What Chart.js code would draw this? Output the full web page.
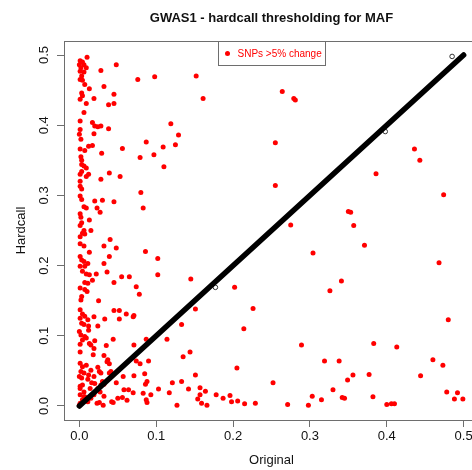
<!DOCTYPE html>
<html>
<head>
<meta charset="utf-8">
<script src="https://cdn.jsdelivr.net/npm/chart.js@4.4.1/dist/chart.umd.min.js"></script>
<style>
  html, body { margin: 0; padding: 0; overflow: hidden; background: #fff; }
  #wrap { position: relative; width: 500px; height: 470px; }
</style>
</head>
<body>
<div id="wrap"><canvas id="maf"></canvas></div>
<script>
// SNPs whose MAF moved by more than 5% after hardcall thresholding: [original, hardcall]
const changedSnps = [
  [0.010,0.497],[0.001,0.492],[0.004,0.490],[0.000,0.486],[0.006,0.486],[0.002,0.482],[0.009,0.482],
  [0.001,0.477],[0.006,0.476],[0.003,0.470],[0.001,0.465],[0.004,0.464],[0.028,0.478],[0.048,0.486],
  [0.007,0.458],[0.013,0.452],[0.003,0.446],[0.004,0.442],[0.001,0.437],[0.009,0.431],[0.032,0.455],
  [0.045,0.444],[0.019,0.438],[0.038,0.429],[0.045,0.431],[0.006,0.418],[0.017,0.404],[0.020,0.399],
  [0.024,0.398],[0.028,0.399],[0.038,0.395],[0.001,0.406],[0.001,0.394],[0.000,0.387],[0.002,0.380],
  [0.019,0.388],[0.001,0.366],[0.007,0.364],[0.012,0.370],[0.017,0.371],[0.056,0.367],[0.029,0.360],
  [0.002,0.355],[0.003,0.350],[0.003,0.344],[0.006,0.342],[0.009,0.339],[0.003,0.334],[0.001,0.330],
  [0.009,0.327],[0.012,0.330],[0.039,0.332],[0.053,0.327],[0.028,0.323],[0.001,0.320],[0.001,0.313],
  [0.003,0.309],[0.001,0.299],[0.003,0.294],[0.006,0.284],[0.009,0.282],[0.020,0.292],[0.030,0.293],
  [0.045,0.291],[0.023,0.282],[0.027,0.276],[0.001,0.274],[0.002,0.269],[0.013,0.265],[0.003,0.261],
  [0.001,0.257],[0.006,0.250],[0.004,0.246],[0.007,0.245],[0.015,0.250],[0.001,0.241],[0.001,0.231],
  [0.006,0.228],[0.013,0.219],[0.032,0.228],[0.040,0.237],[0.048,0.225],[0.001,0.213],[0.003,0.208],
  [0.006,0.206],[0.011,0.203],[0.001,0.199],[0.007,0.199],[0.004,0.192],[0.009,0.188],[0.013,0.187],
  [0.039,0.213],[0.032,0.203],[0.022,0.188],[0.036,0.191],[0.055,0.184],[0.017,0.179],[0.007,0.176],
  [0.011,0.175],[0.045,0.176],[0.001,0.168],[0.007,0.166],[0.010,0.163],[0.003,0.156],[0.002,0.151],
  [0.025,0.150],[0.001,0.137],[0.004,0.131],[0.007,0.128],[0.001,0.125],[0.011,0.123],[0.003,0.118],
  [0.006,0.116],[0.012,0.114],[0.019,0.127],[0.033,0.124],[0.045,0.136],[0.052,0.136],[0.052,0.124],
  [0.024,0.114],
  [0.076,0.465],[0.098,0.469],[0.152,0.470],[0.119,0.402],[0.129,0.386],[0.087,0.376],[0.109,0.369],
  [0.125,0.372],[0.079,0.354],[0.097,0.358],[0.110,0.341],[0.080,0.304],[0.083,0.282],[0.161,0.438],
  [0.264,0.448],[0.279,0.438],[0.281,0.436],[0.255,0.375],[0.255,0.314],[0.436,0.366],[0.443,0.350],
  [0.386,0.331],[0.474,0.301],[0.350,0.277],[0.353,0.276],[0.357,0.257],[0.371,0.229],[0.468,0.204],
  [0.341,0.178],[0.326,0.164],[0.480,0.123],[0.383,0.089],[0.413,0.084],[0.319,0.064],[0.338,0.064],
  [0.460,0.066],[0.473,0.058],[0.356,0.044],[0.349,0.037],[0.377,0.045],[0.444,0.043],[0.330,0.023],
  [0.315,0.009],[0.342,0.012],[0.345,0.011],[0.382,0.013],[0.400,0.002],[0.406,0.003],[0.410,0.003],
  [0.478,0.020],[0.492,0.019],[0.488,0.010],[0.499,0.010],[0.275,0.258],[0.304,0.218],[0.145,0.181],
  [0.202,0.169],[0.151,0.138],[0.226,0.139],[0.214,0.110],[0.144,0.077],[0.289,0.087],[0.205,0.054],
  [0.151,0.044],[0.252,0.033],[0.157,0.026],[0.164,0.021],[0.157,0.016],[0.154,0.010],[0.159,0.004],
  [0.166,0.001],[0.178,0.016],[0.187,0.011],[0.196,0.015],[0.198,0.006],[0.206,0.007],[0.215,0.003],
  [0.229,0.004],[0.271,0.002],[0.298,0.001],[0.303,0.014],
  [0.086,0.220],[0.102,0.210],[0.102,0.187],[0.065,0.184],[0.074,0.170],[0.078,0.159],[0.061,0.131],
  [0.070,0.127],[0.071,0.129],[0.133,0.116],[0.114,0.095],[0.087,0.095],[0.071,0.087],[0.044,0.095],
  [0.035,0.086],[0.018,0.073],[0.032,0.072],[0.037,0.066],[0.039,0.060],[0.074,0.064],[0.079,0.060],
  [0.090,0.064],[0.135,0.070],[0.057,0.042],[0.071,0.043],[0.085,0.046],[0.088,0.035],[0.086,0.031],
  [0.133,0.035],[0.042,0.006],
  [0.000,0.001],[0.001,0.028],[0.006,0.013],[0.011,0.006],[0.014,0.025],[0.019,0.016],[0.023,0.004],
  [0.027,0.020],[0.031,0.001],[0.032,0.014],[0.044,0.005],[0.048,0.033],[0.050,0.011],[0.058,0.023],
  [0.064,0.023],[0.070,0.019],[0.062,0.008],[0.083,0.018],[0.093,0.016],[0.087,0.009],[0.088,0.005],
  [0.103,0.024],[0.117,0.019],[0.121,0.033],[0.127,0.001],[0.142,0.024],
  [0.012,0.108],[0.000,0.106],[0.002,0.101],[0.007,0.099],[0.004,0.094],[0.009,0.097],[0.001,0.088],
  [0.013,0.089],[0.015,0.087],[0.020,0.093],[0.019,0.082],[0.001,0.077],[0.001,0.061],[0.004,0.056],
  [0.009,0.058],[0.002,0.049],[0.006,0.047],[0.000,0.042],[0.003,0.040],[0.004,0.030],[0.001,0.025],
  [0.006,0.020],[0.001,0.016],[0.007,0.013],[0.004,0.009],[0.001,0.004],[0.015,0.051],[0.012,0.044],
  [0.019,0.042],[0.024,0.055],[0.026,0.049],[0.020,0.032],[0.036,0.063],[0.039,0.047],[0.041,0.049],
  [0.056,0.012],[0.028,0.030],[0.024,0.025],[0.015,0.011],[0.026,0.005],[0.028,0.047],[0.011,0.038],
  [0.016,0.033],[0.030,0.035],[0.032,0.031]
];
// everything else sits on y = x, so densely it reads as a thick line
const lineX = [0, 0.5];
const lineY = [0, 0.5];
// the few unchanged-ish SNPs that sit just off the line
const offX = [0.177, 0.398, 0.485];
const offY = [0.169, 0.391, 0.498];
const xTicks = [0, 0.1, 0.2, 0.3, 0.4, 0.5];
const yTicks = [0, 0.1, 0.2, 0.3, 0.4, 0.5];
const legendLabel = 'SNPs >5% change';

const FONT = '"Liberation Sans", Arial, sans-serif';
Chart.defaults.font.family = FONT;
Chart.defaults.font.size = 13;
Chart.defaults.color = '#111';

// R style: box round the plot and legend("top")
const rBox = {
  id: 'rBox',
  afterDraw(chart) {
    const { ctx, chartArea: a } = chart;
    ctx.save();
    ctx.strokeStyle = '#6e6e6e';
    ctx.lineWidth = 1;
    ctx.strokeRect(Math.round(a.left) + 0.5, Math.round(a.top) + 0.5,
      Math.round(a.right - a.left), Math.round(a.bottom - a.top));

    ctx.font = '10px ' + FONT;
    const tw = ctx.measureText(legendLabel).width;
    const w = Math.round(tw + 23), h = 24;
    const x0 = Math.round((a.left + a.right) / 2 - w / 2) + 0.5;
    const y0 = Math.round(a.top) + 0.5;
    ctx.strokeRect(x0, y0, w, h);
    ctx.fillStyle = '#ff0000';
    ctx.beginPath();
    ctx.arc(x0 + 9, y0 + h / 2, 2.5, 0, Math.PI * 2);
    ctx.fill();
    ctx.textBaseline = 'middle';
    ctx.fillText(legendLabel, x0 + 19, y0 + h / 2 + 0.5);
    ctx.restore();
  }
};

const tickGrid = { drawOnChartArea: false, drawTicks: true, tickLength: 7, color: '#6e6e6e', lineWidth: 1 };

new Chart(document.getElementById('maf'), {
  type: 'scatter',
  data: {
    datasets: [
      {
        type: 'line',
        label: 'unchanged',
        data: lineX.map((x, i) => ({ x, y: lineY[i] })),
        borderColor: '#000',
        borderWidth: 5.5,
        borderCapStyle: 'round',
        pointRadius: 0,
        fill: false,
        order: 0
      },
      {
        label: 'off line',
        data: offX.map((x, i) => ({ x, y: offY[i] })),
        pointRadius: 2.3,
        borderWidth: 1,
        borderColor: '#333',
        backgroundColor: 'rgba(0,0,0,0)',
        order: 1
      },
      {
        label: legendLabel,
        data: changedSnps.map(([x, y]) => ({ x, y })),
        pointRadius: 2.5,
        borderWidth: 0,
        backgroundColor: '#ff0000',
        order: 2
      }
    ]
  },
  options: {
    responsive: true,
    maintainAspectRatio: false,
    animation: false,
    events: [],
    layout: { padding: { top: 0, right: 21, bottom: 0, left: 0 } },
    plugins: {
      legend: { display: false },
      tooltip: { enabled: false },
      title: {
        display: true,
        fullSize: false,
        text: 'GWAS1 - hardcall thresholding for MAF',
        color: '#111',
        font: { size: 13, weight: 'bold' },
        padding: { top: 10.5, bottom: 14.9 }
      }
    },
    scales: {
      x: {
        type: 'linear',
        min: -0.02,
        max: 0.52,
        afterBuildTicks: s => { s.ticks = xTicks.map(v => ({ value: v })); },
        afterFit: s => { s.height = 50; },
        grid: tickGrid,
        border: { display: false },
        ticks: { padding: 2, autoSkip: false, maxRotation: 0, callback: v => v.toFixed(1) },
        title: { display: true, text: 'Original', padding: { top: 0, bottom: 2 } }
      },
      y: {
        type: 'linear',
        min: -0.02,
        max: 0.52,
        afterBuildTicks: s => { s.ticks = yTicks.map(v => ({ value: v })); },
        afterFit: s => { s.width = 64; },
        grid: tickGrid,
        border: { display: false },
        ticks: { padding: 4, autoSkip: false, minRotation: 90, maxRotation: 90, crossAlign: 'center', callback: v => v.toFixed(1) },
        title: { display: true, text: 'Hardcall', padding: { top: 14, bottom: 0 } }
      }
    }
  },
  plugins: [rBox]
});
</script>
</body>
</html>
